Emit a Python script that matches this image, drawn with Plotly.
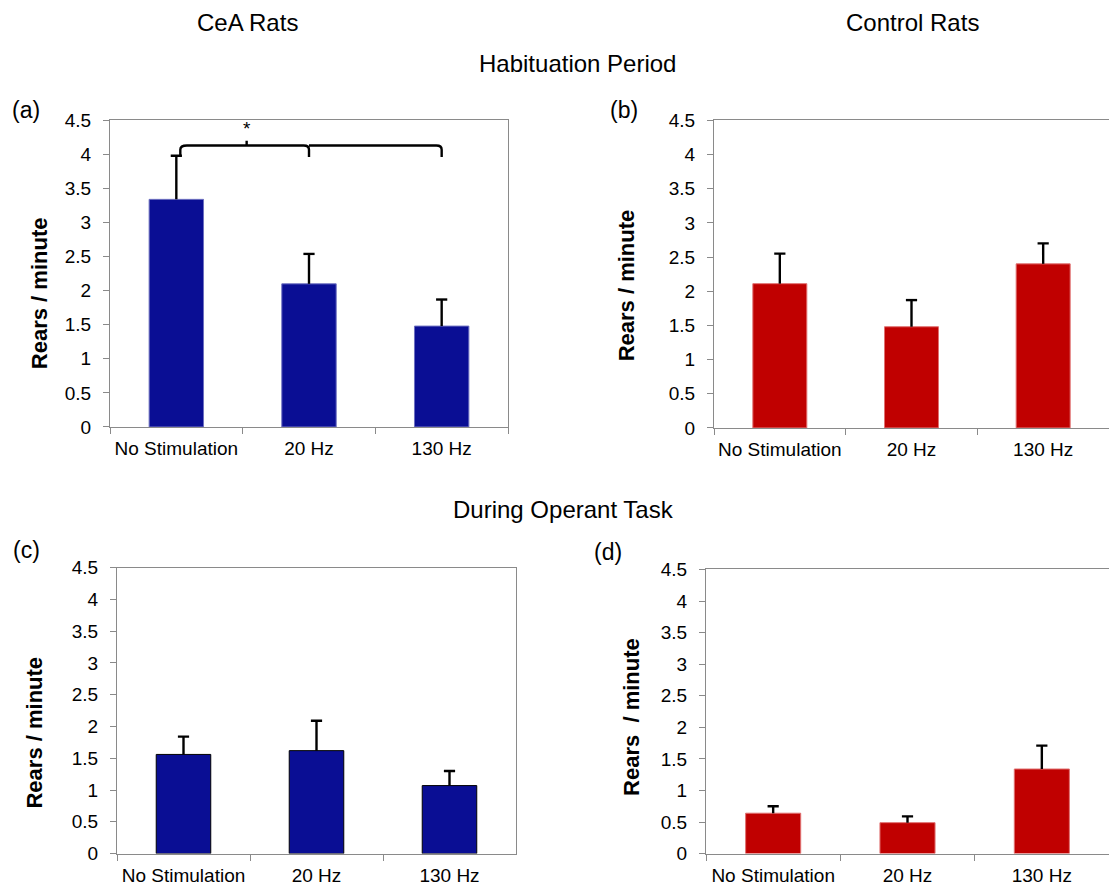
import plotly.graph_objects as go

# ---- data ----
conditions = ["No Stimulation", "20 Hz", "130 Hz"]

cea_hab_mean = [3.34, 2.10, 1.48]
cea_hab_sem = [0.64, 0.44, 0.39]

ctl_hab_mean = [2.11, 1.48, 2.40]
ctl_hab_sem = [0.44, 0.39, 0.30]

cea_task_mean = [1.56, 1.62, 1.07]
cea_task_sem = [0.28, 0.47, 0.23]

ctl_task_mean = [0.64, 0.49, 1.34]
ctl_task_sem = [0.11, 0.10, 0.37]

y_ticks = [0, 0.5, 1, 1.5, 2, 2.5, 3, 3.5, 4, 4.5]
y_ticktext = ["0", "0.5", "1", "1.5", "2", "2.5", "3", "3.5", "4", "4.5"]

BLUE = "#0a0e94"
RED = "#c00000"
AXIS_GREY = "#8a8a8a"
FONT = "Liberation Sans, Arial, sans-serif"

W, H = 1109, 890


def px_x(v):
    return v / W


def px_y(v):
    return 1 - v / H


# panel boxes in pixels: (left, right, top, bottom)
panels = {
    "a": (110, 508, 113, 427),
    "b": (714, 1109, 113, 428),
    "c": (117, 516, 571, 864),
    "d": (706, 1109, 573, 864),
}

series = [
    ("a", cea_hab_mean, cea_hab_sem, BLUE, "#6d70c0", True),
    ("b", ctl_hab_mean, ctl_hab_sem, RED, "#e07070", False),
    ("c", cea_task_mean, cea_task_sem, BLUE, "#000000", True),
    ("d", ctl_task_mean, ctl_task_sem, RED, "#e07070", False),
]

fig = go.Figure()
layout_axes = {}

for i, (key, mean, sem, color, edge, closed_right) in enumerate(series, start=1):
    xa = "x" if i == 1 else f"x{i}"
    ya = "y" if i == 1 else f"y{i}"
    fig.add_trace(
        go.Bar(
            x=conditions,
            y=mean,
            xaxis=xa,
            yaxis=ya,
            marker=dict(color=color, line=dict(color=edge, width=1)),
            showlegend=False,
        )
    )
    # upper-only error bars: stem from the bar top to mean + SEM, capped
    tops = [m + s for m, s in zip(mean, sem)]
    stem_x, stem_y = [], []
    for c, m, tp in zip(conditions, mean, tops):
        stem_x += [c, c, None]
        stem_y += [m, tp, None]
    fig.add_trace(
        go.Scatter(
            x=stem_x, y=stem_y, xaxis=xa, yaxis=ya, mode="lines",
            line=dict(color="black", width=2.4), showlegend=False,
            hoverinfo="skip",
        )
    )
    fig.add_trace(
        go.Scatter(
            x=conditions, y=tops, xaxis=xa, yaxis=ya, mode="markers",
            marker=dict(symbol="line-ew", size=8, color="black",
                        line=dict(color="black", width=2.4)),
            showlegend=False, hoverinfo="skip",
        )
    )

    l, r, t, b = panels[key]
    xname = "xaxis" if i == 1 else f"xaxis{i}"
    yname = "yaxis" if i == 1 else f"yaxis{i}"
    layout_axes[xname] = dict(
        domain=[px_x(l), min(px_x(r), 1.0)],
        anchor=ya,
        type="category",
        range=[-0.5, 2.5],
        showline=True,
        linecolor=AXIS_GREY,
        linewidth=1.3,
        mirror=True,
        ticks="outside",
        tickson="boundaries",
        ticklen=6,
        tickcolor=AXIS_GREY,
        tickangle=0,
        tickfont=dict(family=FONT, size=19, color="black"),
        ticklabelstandoff=4,
        showgrid=False,
        fixedrange=True,
    )
    layout_axes[yname] = dict(
        domain=[px_y(b), px_y(t)],
        anchor=xa,
        range=[0, 4.5],
        tickvals=y_ticks,
        ticktext=y_ticktext,
        showline=True,
        linecolor=AXIS_GREY,
        linewidth=1.3,
        mirror=closed_right,
        ticks="outside",
        ticklen=6,
        tickcolor=AXIS_GREY,
        tickfont=dict(family=FONT, size=19, color="black"),
        ticklabelstandoff=8,
        showgrid=False,
        zeroline=False,
        fixedrange=True,
    )

# significance bracket over panel (a): No Stimulation vs 20 Hz and 130 Hz
base_top = cea_hab_mean[0] + cea_hab_sem[0]
br_y = base_top + 0.15
drop = br_y - 0.17
bracket = (
    f"M 0.03,{base_top:.3f} L 0.03,{br_y - 0.06:.3f} Q 0.03,{br_y:.3f} 0.08,{br_y:.3f} "
    f"L 0.96,{br_y:.3f} Q 1.0,{br_y:.3f} 1.0,{br_y - 0.06:.3f} L 1.0,{drop:.3f} "
    f"M 1.0,{br_y:.3f} L 1.96,{br_y:.3f} Q 2.0,{br_y:.3f} 2.0,{br_y - 0.06:.3f} L 2.0,{drop:.3f} "
    f"M 0.53,{br_y:.3f} L 0.53,{br_y + 0.07:.3f}"
)
shapes = [
    dict(type="path", xref="x", yref="y", path=bracket,
         line=dict(color="black", width=2.4))
]

annotations = [
    dict(x=0.53, y=br_y + 0.25, xref="x", yref="y", text="*", showarrow=False,
         font=dict(family=FONT, size=19, color="black")),
]

# column and row headings
headings = [
    ("CeA Rats", 247, 13),
    ("Control Rats", 912, 13),
    ("Habituation Period", 577, 55),
    ("During Operant Task", 563, 512),
]
for text, x, y in headings:
    annotations.append(dict(
        x=px_x(x), y=px_y(y), xref="paper", yref="paper", text=text,
        showarrow=False, xanchor="center", yanchor="middle",
        font=dict(family=FONT, size=24, color="black")))

# panel letters
letters = [("(a)", 26, 102), ("(b)", 624, 102), ("(c)", 26, 553), ("(d)", 608, 555)]
for text, x, y in letters:
    annotations.append(dict(
        x=px_x(x), y=px_y(y), xref="paper", yref="paper", text=text,
        showarrow=False, xanchor="center", yanchor="middle",
        font=dict(family=FONT, size=23, color="black")))

# y-axis titles
ytitles = [
    ("Rears / minute", 39, 290),
    ("Rears / minute", 626, 282),
    ("Rears / minute", 35, 740),
    ("Rears \u00a0/ minute", 632, 724),
]
for text, x, y in ytitles:
    annotations.append(dict(
        x=px_x(x), y=px_y(y), xref="paper", yref="paper", text=f"<b>{text}</b>",
        textangle=-90, showarrow=False, xanchor="center", yanchor="middle",
        font=dict(family=FONT, size=22, color="black")))

fig.update_layout(
    width=W,
    height=H,
    margin=dict(l=0, r=0, t=0, b=0),
    paper_bgcolor="white",
    plot_bgcolor="white",
    bargap=0.59,
    shapes=shapes,
    annotations=annotations,
    **layout_axes,
)

fig.write_html("out.html")
